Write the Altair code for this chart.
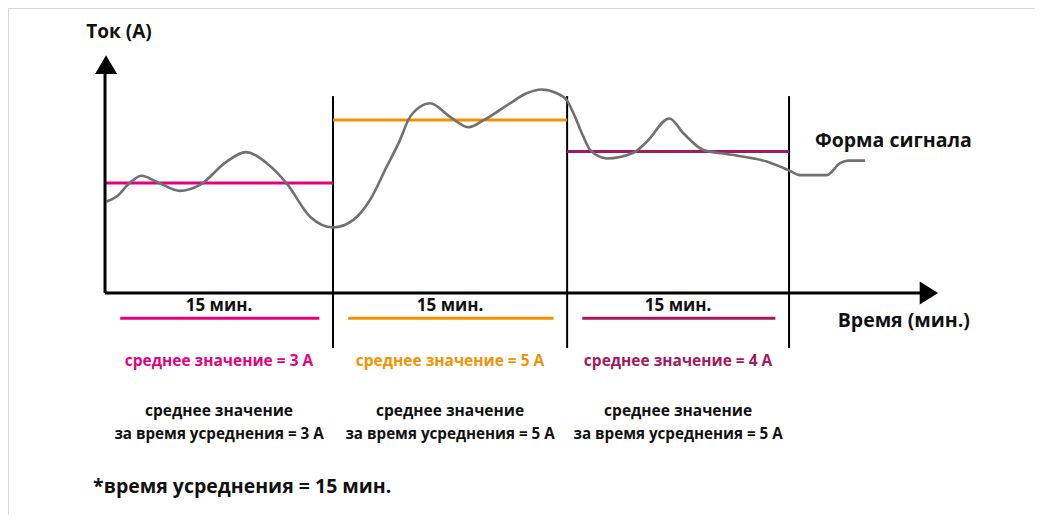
import altair as alt
import pandas as pd

# ---- data ----
# waveform: time (min) and current (A)
sig_t = [0.11, 0.77, 1.64, 2.41, 3.40, 4.93, 6.25, 8.0, 9.26, 10.64, 11.95, 13.49,
         15.02, 16.34, 17.43, 18.53, 19.41, 19.95, 20.72, 21.38, 22.7, 23.90, 25.0,
         26.64, 27.74, 28.73, 29.72, 30.38, 30.92, 31.47, 31.91, 33.01, 34.76, 35.64,
         37.13, 38.05, 39.36, 40.90, 43.53, 44.95, 45.72, 47.48, 48.36, 48.9, 50.0]
sig_a = [2.41, 2.57, 3.01, 3.23, 3.04, 2.75, 2.94, 3.68, 3.98, 3.63, 2.99, 1.93,
         1.59, 1.83, 2.46, 3.52, 4.37, 5.0, 5.42, 5.53, 5.1, 4.77, 5.02,
         5.53, 5.85, 5.97, 5.85, 5.63, 5.10, 4.47, 4.05, 3.78, 3.96, 4.31,
         5.05, 4.58, 4.05, 3.92, 3.68, 3.41, 3.25, 3.25, 3.63, 3.71, 3.71]

# averaging periods
seg_start = [0, 15, 30.4]
seg_end = [15, 30.4, 45]
seg_avg = [3, 5, 4]
seg_color = ["#e5007d", "#f39200", "#a3195b"]
seg_label = ["15 мин.", "15 мин.", "15 мин."]
seg_avg_text = ["среднее значение = 3 А", "среднее значение = 5 А", "среднее значение = 4 А"]
period_avg = [3, 5, 5]
boundaries = [15, 30.4, 45]

# ---- layout helpers ----
XMIN, XMAX = -6.382, 61.18
YMIN, YMAX = -7.540, 8.556
BASE = -0.49
FONT = "Open Sans"
INK = "#111111"

xs = alt.Scale(domain=[XMIN, XMAX], nice=False, zero=False)
ys = alt.Scale(domain=[YMIN, YMAX], nice=False, zero=False)


def X(f="x"):
    return alt.X(f"{f}:Q", scale=xs, axis=None)


def Y(f="y"):
    return alt.Y(f"{f}:Q", scale=ys, axis=None)


mid = [(a + b) / 2 for a, b in zip(seg_start, seg_end)]
segs = pd.DataFrame({
    "x": seg_start, "x2": seg_end, "y": seg_avg, "color": seg_color,
    "mid": mid, "label": seg_label, "avgtxt": seg_avg_text,
    "u1": [s + 1.0 for s in seg_start], "u2": [e - 0.9 for e in seg_end],
    "l1": ["среднее значение"] * 3,
    "l2": [f"за время усреднения = {v} А" for v in period_avg],
})

color_enc = alt.Color("color:N", scale=None, legend=None)

# frame (top and left edges)
frame_top = alt.Chart(pd.DataFrame({"x": [XMIN], "x2": [XMAX], "y": [YMAX]})).mark_rule(
    color="#d3d6da", strokeWidth=2).encode(x=X(), x2="x2:Q", y=Y())
frame_left = alt.Chart(pd.DataFrame({"x": [XMIN], "y": [YMIN], "y2": [YMAX]})).mark_rule(
    color="#d3d6da", strokeWidth=2).encode(x=X(), y=Y(), y2="y2:Q")

# axes
yaxis = alt.Chart(pd.DataFrame({"x": [0], "y": [BASE], "y2": [6.8]})).mark_rule(
    color="black", strokeWidth=3).encode(x=X(), y=Y(), y2="y2:Q")
xaxis = alt.Chart(pd.DataFrame({"x": [0], "x2": [54.0], "y": [BASE]})).mark_rule(
    color="black", strokeWidth=3).encode(x=X(), x2="x2:Q", y=Y())
yarrow = alt.Chart(pd.DataFrame({"x": [0.07], "y": [6.76]})).mark_point(
    shape="M-1,0.85L0,-0.85L1,0.85Z", filled=True, size=484, color="black", opacity=1
).encode(x=X(), y=Y())
xarrow = alt.Chart(pd.DataFrame({"x": [54.2], "y": [BASE]})).mark_point(
    shape="M-0.8,-1L0.8,0L-0.8,1Z", filled=True, size=529, color="black", opacity=1
).encode(x=X(), y=Y())

# boundaries
bnd = alt.Chart(pd.DataFrame({"x": boundaries, "y": [-2.24] * 3, "y2": [5.76] * 3})).mark_rule(
    color="black", strokeWidth=2).encode(x=X(), y=Y(), y2="y2:Q")

# average lines
avg = alt.Chart(segs).mark_rule(strokeWidth=3).encode(x=X(), x2="x2:Q", y=Y(), color=color_enc)

# signal
sig = alt.Chart(pd.DataFrame({"x": sig_t, "y": sig_a})).mark_line(
    color="#707070", strokeWidth=2.6, interpolate="monotone").encode(x=X(), y=Y())

# underline marks below "15 мин."
under = alt.Chart(segs).transform_calculate(yy="-1.29").mark_rule(strokeWidth=3).encode(
    x=X("u1"), x2="u2:Q", y=Y("yy"), color=color_enc)

txt_kw = dict(font=FONT, fontWeight="bold")
lab15 = alt.Chart(segs).transform_calculate(yy="-0.9").mark_text(
    fontSize=17, color=INK, align="center", baseline="middle", **txt_kw
).encode(x=X("mid"), y=Y("yy"), text="label:N")
avgtxt = alt.Chart(segs).transform_calculate(yy="-2.65").mark_text(
    fontSize=15.5, align="center", baseline="middle", **txt_kw
).encode(x=X("mid"), y=Y("yy"), text="avgtxt:N", color=color_enc)
l1 = alt.Chart(segs).transform_calculate(yy="-4.24").mark_text(
    fontSize=15.5, color=INK, align="center", baseline="middle", **txt_kw
).encode(x=X("mid"), y=Y("yy"), text="l1:N")
l2 = alt.Chart(segs).transform_calculate(yy="-4.97").mark_text(
    fontSize=15.2, color=INK, align="center", baseline="middle", **txt_kw
).encode(x=X("mid"), y=Y("yy"), text="l2:N")

labels = pd.DataFrame({
    "x": [0.92, 46.7, 48.2, -0.79],
    "y": [7.79, 4.33, -1.38, -6.65],
    "t": ["Ток (А)", "Форма сигнала", "Время (мин.)", "*время усреднения = 15 мин."],
})
lab_c = alt.Chart(labels.iloc[[0]]).mark_text(
    fontSize=19, color=INK, align="center", baseline="middle", **txt_kw
).encode(x=X(), y=Y(), text="t:N")
lab_l = alt.Chart(labels.iloc[1:]).mark_text(
    fontSize=19.5, color=INK, align="left", baseline="middle", **txt_kw
).encode(x=X(), y=Y(), text="t:N")

chart = alt.layer(
    frame_top, frame_left, bnd, avg, sig, yaxis, xaxis, yarrow, xarrow,
    under, lab15, avgtxt, l1, l2, lab_c, lab_l
).properties(
    width=1027, height=507, padding=0,
    autosize=alt.AutoSizeParams(type="none"),
    background="white",
).configure_view(stroke=None)

chart.save("out.html", embed_options={"renderer": "svg", "actions": False})
